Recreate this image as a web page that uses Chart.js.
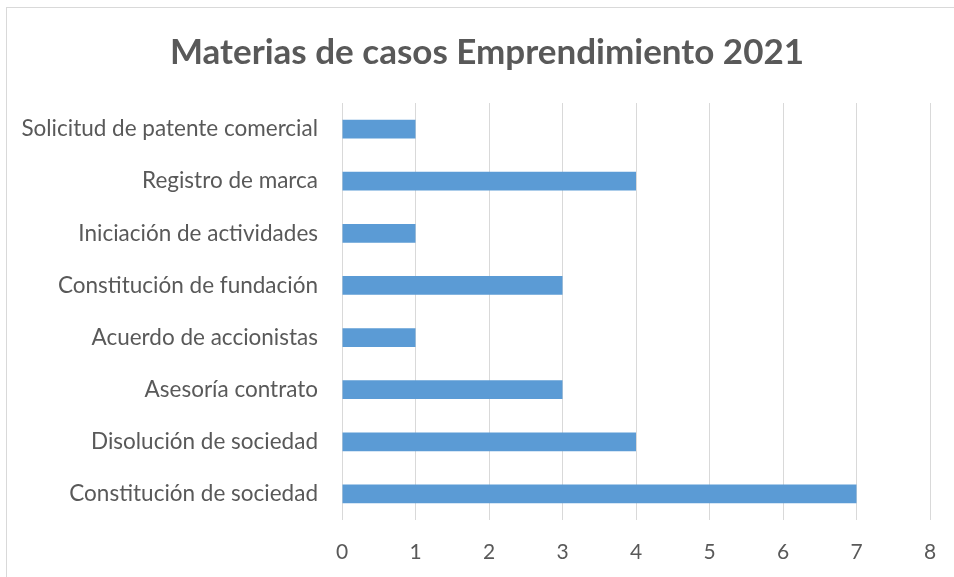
<!DOCTYPE html>
<html>
<head>
<meta charset="utf-8">
<script src="https://cdn.jsdelivr.net/npm/chart.js@4"></script>
<style>
  html, body { margin: 0; padding: 0; background: #fff; overflow: hidden; }
  #frame {
    position: absolute; left: 6px; top: 7px;
    width: 962px; height: 582px;
    border: 1px solid #d9d9d9;
  }
  #myChart { position: absolute; left: 0; top: 0; }
</style>
</head>
<body>
<div id="frame"><canvas id="myChart" width="960" height="580"></canvas></div>
<script>
const categories = [
    'Solicitud de patente comercial',
    'Registro de marca',
    'Iniciación de actividades',
    'Constitución de fundación',
    'Acuerdo de accionistas',
    'Asesoría contrato',
    'Disolución de sociedad',
    'Constitución de sociedad'
];

const casos = [1, 4, 1, 3, 1, 3, 4, 7];

const xTicks = [0, 1, 2, 3, 4, 5, 6, 7, 8];

const gray = '#595959';

const data = {
    labels: categories,
    datasets: [{
        label: 'Casos',
        backgroundColor: '#5b9bd5',
        data: casos,
        categoryPercentage: 1,
        barPercentage: 0.36
    }]
};

const config = {
    type: 'bar',
    data,
    options: {
        indexAxis: 'y',
        responsive: false,
        animation: false,
        layout: {
            padding: 0
        },
        plugins: {
            legend: { display: false },
            tooltip: { enabled: false },
            title: {
                display: true,
                text: 'Materias de casos Emprendimiento 2021',
                color: gray,
                font: { family: 'Lato', size: 35, weight: 'bold' },
                padding: { top: 24, bottom: 29 }
            }
        },
        scales: {
            x: {
                min: 0,
                max: 8,
                afterBuildTicks: (axis) => { axis.ticks = xTicks.map(v => ({ value: v })); },
                afterFit: (axis) => { axis.height = 68; },
                grid: { color: '#d9d9d9', lineWidth: 1, drawTicks: false },
                border: { display: false },
                ticks: {
                    color: gray,
                    padding: 20,
                    font: { family: 'Lato', size: 21 }
                }
            },
            y: {
                afterFit: (axis) => { axis.width = 335; },
                grid: { display: false, drawTicks: false },
                border: { display: false },
                ticks: {
                    color: gray,
                    padding: 24,
                    font: { family: 'Lato', size: 22.5 }
                }
            },
            // empty right-hand spacer so the title stays centred on the whole frame
            spacer: {
                type: 'linear',
                position: 'right',
                afterFit: (axis) => { axis.width = 37; },
                grid: { display: false, drawTicks: false },
                border: { display: false },
                ticks: { display: false }
            }
        }
    }
};

var myChart = new Chart(
    document.getElementById('myChart'),
    config
);
</script>
</body>
</html>
